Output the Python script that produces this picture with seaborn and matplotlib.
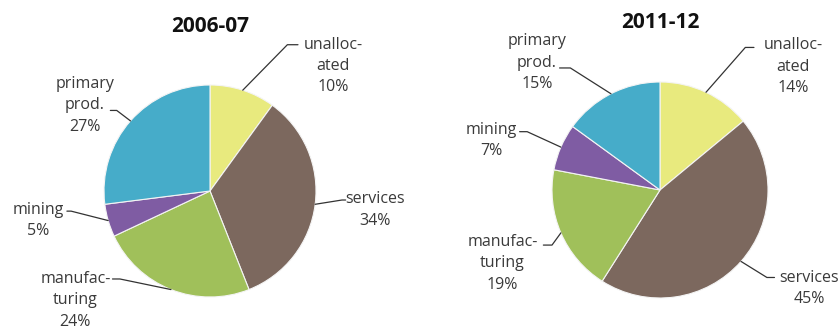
import numpy as np
import matplotlib
matplotlib.use("Agg")
import matplotlib.pyplot as plt
import seaborn as sns

sns.set_style("white")
plt.rcParams['font.family'] = ['Open Sans', 'DejaVu Sans']

# data
sectors = ["unalloc-\nated", "services", "manufac-\nturing", "mining", "primary\nprod."]
years = ["2006-07", "2011-12"]
shares_0607 = [10, 34, 24, 5, 27]
shares_1112 = [14, 45, 19, 7, 15]
colors = ["#e8ea7e", "#7c685e", "#a0c05a", "#7f5ca3", "#46acc9"]

# label layout (data units of each pie axes, radius 1): text centre, elbow, line end
layout_0607 = [
    ((1.16, 1.18), (0.73, 1.38), 0.83),
    ((1.56, -0.18), (1.245, -0.085), 1.28),
    ((-1.27, -1.03), (-0.85, -0.83), -0.92),
    ((-1.62, -0.28), (-1.31, -0.19), -1.35),
    ((-1.18, 0.81), (-0.88, 0.76), -0.94),
]
layout_1112 = [
    ((1.23, 1.14), (0.79, 1.32), 0.87),
    ((1.38, -0.91), (0.99, -0.81), 1.06),
    ((-1.46, -0.68), (-1.0, -0.51), -1.08),
    ((-1.56, 0.46), (-1.23, 0.54), -1.30),
    ((-1.14, 1.18), (-0.83, 1.13), -0.93),
]

fig = plt.figure(figsize=(8.38, 3.31), dpi=100)
W, H = 838, 331


def draw(ax, shares, year, layout, xlim, ylim):
    wedges, _ = ax.pie(shares, colors=colors, startangle=90, counterclock=False,
                       wedgeprops=dict(edgecolor="#f4f4f4", linewidth=0.8))
    total = float(sum(shares))
    start = 0.0
    for i, (lab, v) in enumerate(zip(sectors, shares)):
        mid = 90 - 360 * (start + v / 2) / total
        start += v
        ax_ = np.cos(np.radians(mid))
        ay_ = np.sin(np.radians(mid))
        (tx, ty), (ex, ey), hx = layout[i]
        ax.plot([ax_, ex, hx], [ay_, ey, ey], color="#333333", lw=0.9,
                solid_capstyle="round")
        ax.text(tx, ty, f"{lab}\n{v}%", ha="center", va="center",
                fontsize=11.5, color="#3a3a3a", linespacing=1.45)
    ax.text(0, 1.55, year, ha="center", va="center", fontsize=15,
            fontweight="bold", color="#111111")
    ax.set_xlim(*xlim)
    ax.set_ylim(*ylim)
    ax.set_aspect("auto")
    ax.axis("off")


# left pie: centre (210,191) px, r 106 ; right pie: centre (660,190) px, r 108
ax1 = fig.add_axes([0, 0, 420 / W, 1])
draw(ax1, shares_0607, years[0], layout_0607,
     ((0 - 210) / 106, (420 - 210) / 106), (-(331 - 191) / 106, 191 / 106))
ax2 = fig.add_axes([420 / W, 0, 418 / W, 1])
draw(ax2, shares_1112, years[1], layout_1112,
     ((420 - 660) / 108, (838 - 660) / 108), (-(331 - 190) / 108, 190 / 108))

fig.savefig("out.png", dpi=100)
